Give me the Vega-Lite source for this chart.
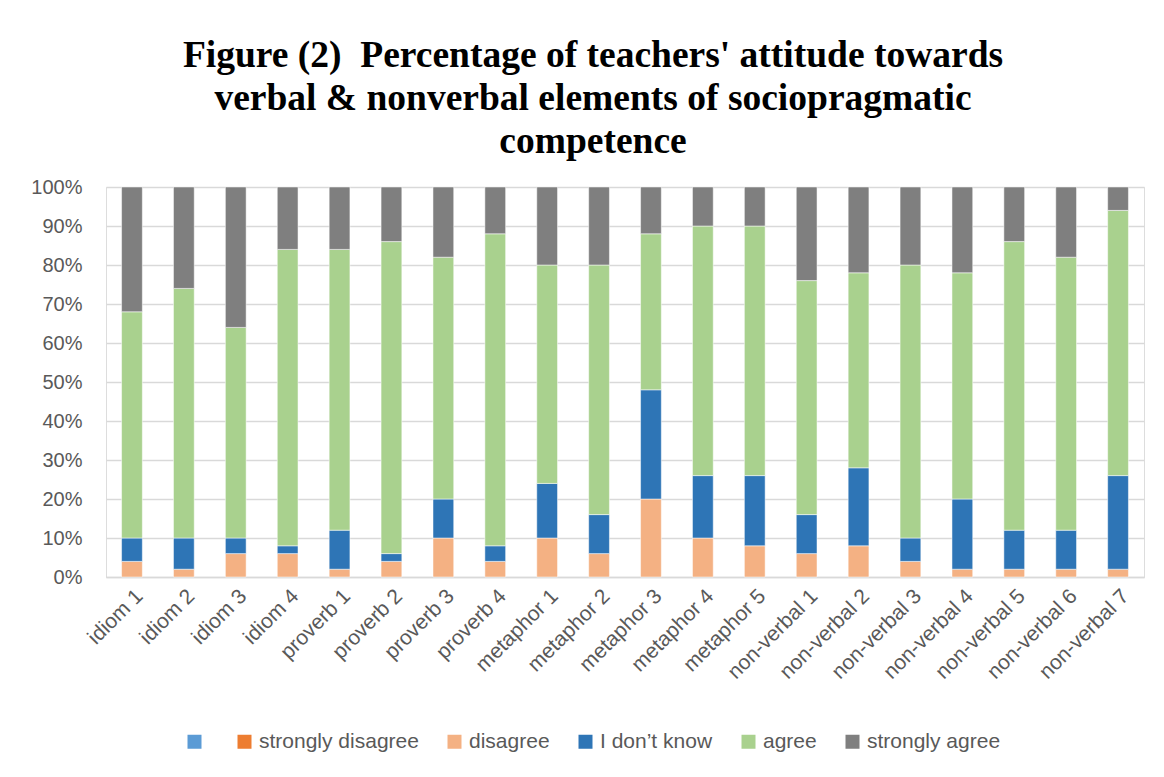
{
  "$schema": "https://vega.github.io/schema/vega-lite/v6.json",
  "width": 1038,
  "height": 390,
  "autosize": "none",
  "padding": {"left": 106, "top": 187, "right": 20, "bottom": 200},
  "background": "white",
  "title": {
    "text": ["Figure (2)\u00a0 Percentage of teachers' attitude towards", "verbal & nonverbal elements of sociopragmatic", "competence"],
    "font": "Liberation Serif",
    "fontSize": 37.5,
    "fontWeight": "bold",
    "color": "black",
    "lineHeight": 43,
    "anchor": "middle",
    "offset": 17,
    "dx": -32
  },
  "data": {
    "values": [
      {"item": "idiom 1", "level": "disagree", "pct": 4, "rank": 2},
      {"item": "idiom 1", "level": "I don’t know", "pct": 6, "rank": 3},
      {"item": "idiom 1", "level": "agree", "pct": 58, "rank": 4},
      {"item": "idiom 1", "level": "strongly agree", "pct": 32, "rank": 5},
      {"item": "idiom 2", "level": "disagree", "pct": 2, "rank": 2},
      {"item": "idiom 2", "level": "I don’t know", "pct": 8, "rank": 3},
      {"item": "idiom 2", "level": "agree", "pct": 64, "rank": 4},
      {"item": "idiom 2", "level": "strongly agree", "pct": 26, "rank": 5},
      {"item": "idiom 3", "level": "disagree", "pct": 6, "rank": 2},
      {"item": "idiom 3", "level": "I don’t know", "pct": 4, "rank": 3},
      {"item": "idiom 3", "level": "agree", "pct": 54, "rank": 4},
      {"item": "idiom 3", "level": "strongly agree", "pct": 36, "rank": 5},
      {"item": "idiom 4", "level": "disagree", "pct": 6, "rank": 2},
      {"item": "idiom 4", "level": "I don’t know", "pct": 2, "rank": 3},
      {"item": "idiom 4", "level": "agree", "pct": 76, "rank": 4},
      {"item": "idiom 4", "level": "strongly agree", "pct": 16, "rank": 5},
      {"item": "proverb 1", "level": "disagree", "pct": 2, "rank": 2},
      {"item": "proverb 1", "level": "I don’t know", "pct": 10, "rank": 3},
      {"item": "proverb 1", "level": "agree", "pct": 72, "rank": 4},
      {"item": "proverb 1", "level": "strongly agree", "pct": 16, "rank": 5},
      {"item": "proverb 2", "level": "disagree", "pct": 4, "rank": 2},
      {"item": "proverb 2", "level": "I don’t know", "pct": 2, "rank": 3},
      {"item": "proverb 2", "level": "agree", "pct": 80, "rank": 4},
      {"item": "proverb 2", "level": "strongly agree", "pct": 14, "rank": 5},
      {"item": "proverb 3", "level": "disagree", "pct": 10, "rank": 2},
      {"item": "proverb 3", "level": "I don’t know", "pct": 10, "rank": 3},
      {"item": "proverb 3", "level": "agree", "pct": 62, "rank": 4},
      {"item": "proverb 3", "level": "strongly agree", "pct": 18, "rank": 5},
      {"item": "proverb 4", "level": "disagree", "pct": 4, "rank": 2},
      {"item": "proverb 4", "level": "I don’t know", "pct": 4, "rank": 3},
      {"item": "proverb 4", "level": "agree", "pct": 80, "rank": 4},
      {"item": "proverb 4", "level": "strongly agree", "pct": 12, "rank": 5},
      {"item": "metaphor 1", "level": "disagree", "pct": 10, "rank": 2},
      {"item": "metaphor 1", "level": "I don’t know", "pct": 14, "rank": 3},
      {"item": "metaphor 1", "level": "agree", "pct": 56, "rank": 4},
      {"item": "metaphor 1", "level": "strongly agree", "pct": 20, "rank": 5},
      {"item": "metaphor 2", "level": "disagree", "pct": 6, "rank": 2},
      {"item": "metaphor 2", "level": "I don’t know", "pct": 10, "rank": 3},
      {"item": "metaphor 2", "level": "agree", "pct": 64, "rank": 4},
      {"item": "metaphor 2", "level": "strongly agree", "pct": 20, "rank": 5},
      {"item": "metaphor 3", "level": "disagree", "pct": 20, "rank": 2},
      {"item": "metaphor 3", "level": "I don’t know", "pct": 28, "rank": 3},
      {"item": "metaphor 3", "level": "agree", "pct": 40, "rank": 4},
      {"item": "metaphor 3", "level": "strongly agree", "pct": 12, "rank": 5},
      {"item": "metaphor 4", "level": "disagree", "pct": 10, "rank": 2},
      {"item": "metaphor 4", "level": "I don’t know", "pct": 16, "rank": 3},
      {"item": "metaphor 4", "level": "agree", "pct": 64, "rank": 4},
      {"item": "metaphor 4", "level": "strongly agree", "pct": 10, "rank": 5},
      {"item": "metaphor 5", "level": "disagree", "pct": 8, "rank": 2},
      {"item": "metaphor 5", "level": "I don’t know", "pct": 18, "rank": 3},
      {"item": "metaphor 5", "level": "agree", "pct": 64, "rank": 4},
      {"item": "metaphor 5", "level": "strongly agree", "pct": 10, "rank": 5},
      {"item": "non-verbal 1", "level": "disagree", "pct": 6, "rank": 2},
      {"item": "non-verbal 1", "level": "I don’t know", "pct": 10, "rank": 3},
      {"item": "non-verbal 1", "level": "agree", "pct": 60, "rank": 4},
      {"item": "non-verbal 1", "level": "strongly agree", "pct": 24, "rank": 5},
      {"item": "non-verbal 2", "level": "disagree", "pct": 8, "rank": 2},
      {"item": "non-verbal 2", "level": "I don’t know", "pct": 20, "rank": 3},
      {"item": "non-verbal 2", "level": "agree", "pct": 50, "rank": 4},
      {"item": "non-verbal 2", "level": "strongly agree", "pct": 22, "rank": 5},
      {"item": "non-verbal 3", "level": "disagree", "pct": 4, "rank": 2},
      {"item": "non-verbal 3", "level": "I don’t know", "pct": 6, "rank": 3},
      {"item": "non-verbal 3", "level": "agree", "pct": 70, "rank": 4},
      {"item": "non-verbal 3", "level": "strongly agree", "pct": 20, "rank": 5},
      {"item": "non-verbal 4", "level": "disagree", "pct": 2, "rank": 2},
      {"item": "non-verbal 4", "level": "I don’t know", "pct": 18, "rank": 3},
      {"item": "non-verbal 4", "level": "agree", "pct": 58, "rank": 4},
      {"item": "non-verbal 4", "level": "strongly agree", "pct": 22, "rank": 5},
      {"item": "non-verbal 5", "level": "disagree", "pct": 2, "rank": 2},
      {"item": "non-verbal 5", "level": "I don’t know", "pct": 10, "rank": 3},
      {"item": "non-verbal 5", "level": "agree", "pct": 74, "rank": 4},
      {"item": "non-verbal 5", "level": "strongly agree", "pct": 14, "rank": 5},
      {"item": "non-verbal 6", "level": "disagree", "pct": 2, "rank": 2},
      {"item": "non-verbal 6", "level": "I don’t know", "pct": 10, "rank": 3},
      {"item": "non-verbal 6", "level": "agree", "pct": 70, "rank": 4},
      {"item": "non-verbal 6", "level": "strongly agree", "pct": 18, "rank": 5},
      {"item": "non-verbal 7", "level": "disagree", "pct": 2, "rank": 2},
      {"item": "non-verbal 7", "level": "I don’t know", "pct": 24, "rank": 3},
      {"item": "non-verbal 7", "level": "agree", "pct": 68, "rank": 4},
      {"item": "non-verbal 7", "level": "strongly agree", "pct": 6, "rank": 5}
    ]
  },
  "mark": {"type": "bar", "stroke": "white", "strokeWidth": 0.5},
  "encoding": {
    "x": {
      "field": "item",
      "type": "nominal",
      "sort": null,
      "scale": {"paddingInner": 0.6, "paddingOuter": 0.3},
      "axis": {
        "title": null,
        "labelAngle": -45,
        "labelFont": "Liberation Sans",
        "labelFontSize": 21,
        "labelColor": "#595959",
        "labelDx": -8,
        "ticks": false,
        "domainColor": "#D9D9D9",
        "domainWidth": 1.5,
        "labelPadding": 8
      }
    },
    "y": {
      "field": "pct",
      "type": "quantitative",
      "stack": "zero",
      "scale": {"domain": [0, 100]},
      "axis": {
        "title": null,
        "values": [0, 10, 20, 30, 40, 50, 60, 70, 80, 90, 100],
        "labelExpr": "datum.value + '%'",
        "labelFont": "Liberation Sans",
        "labelFontSize": 20,
        "labelColor": "#595959",
        "labelPadding": 24,
        "grid": true,
        "gridColor": "#D9D9D9",
        "gridWidth": 1.5,
        "domain": false,
        "ticks": false
      }
    },
    "color": {
      "field": "level",
      "type": "nominal",
      "scale": {
        "domain": ["\u200b", "strongly disagree", "disagree", "I don’t know", "agree", "strongly agree"],
        "range": ["#5B9BD5", "#ED7D31", "#F4B183", "#2E75B6", "#A9D18E", "#7F7F7F"]
      },
      "legend": {
        "title": null,
        "orient": "none",
        "direction": "horizontal",
        "legendX": 78,
        "legendY": 544,
        "symbolType": "square",
        "symbolSize": 196,
        "symbolStrokeWidth": 0,
        "labelFont": "Liberation Sans",
        "labelFontSize": 21,
        "labelColor": "#595959",
        "labelOffset": 4,
        "columnPadding": 25
      }
    },
    "order": {"field": "rank"}
  }
}
